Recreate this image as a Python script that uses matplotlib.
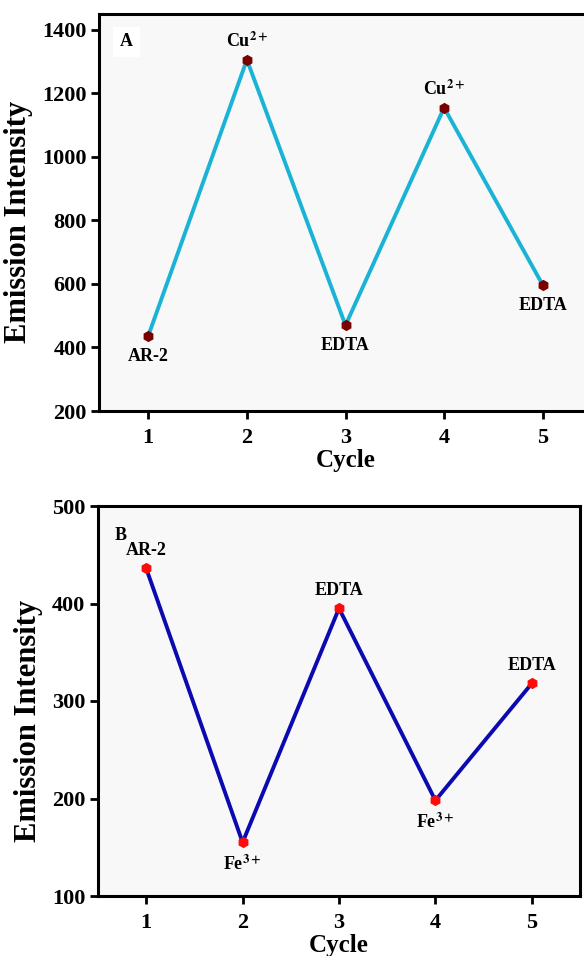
import matplotlib
matplotlib.use("Agg")
import matplotlib.pyplot as plt

plt.rcParams['font.family'] = ['Liberation Serif', 'DejaVu Serif']
plt.rcParams['font.weight'] = 'bold'
plt.rcParams['mathtext.fontset'] = 'stix'

cycles = [1, 2, 3, 4, 5]
intensity_a = [437, 1306, 470, 1155, 597]
labels_a = ['AR-2', r'Cu$^{\mathbf{2+}}$', 'EDTA', r'Cu$^{\mathbf{2+}}$', 'EDTA']
pos_a = ['below', 'above', 'below', 'above', 'below']

intensity_b = [436, 155, 395, 198, 318]
labels_b = ['AR-2', r'Fe$^{\mathbf{3+}}$', 'EDTA', r'Fe$^{\mathbf{3+}}$', 'EDTA']
pos_b = ['above', 'below', 'above', 'below', 'above']

yticks_a = [200, 400, 600, 800, 1000, 1200, 1400]
yticks_b = [100, 200, 300, 400, 500]

W, H = 584, 956
fig = plt.figure(figsize=(W / 100, H / 100), dpi=100)

def box(l, r, t, b):
    return [l / W, 1 - b / H, (r - l) / W, (b - t) / H]

axA = fig.add_axes(box(99, 592, 14, 411))
axB = fig.add_axes(box(98, 580, 506, 896))

def style(ax, yticks, ylim):
    ax.set_facecolor('#f8f8f8')
    ax.set_xlim(0.5, 5.5)
    ax.set_ylim(*ylim)
    ax.set_xticks(cycles)
    ax.set_yticks(yticks)
    for s in ax.spines.values():
        s.set_linewidth(2.2)
    ax.tick_params(direction='out', length=6, width=2, labelsize=16, pad=3)
    ax.tick_params(axis='x', pad=6)
    for lab in ax.get_xticklabels() + ax.get_yticklabels():
        lab.set_fontweight('bold')
    ax.set_xlabel('Cycle', fontsize=18, fontweight='bold', labelpad=1)
    ax.set_ylabel('Emission Intensity', fontsize=22, fontweight='bold')

style(axA, yticks_a, (200, 1450))
style(axB, yticks_b, (100, 500))

axA.plot(cycles, intensity_a, color='#1ab3d6', lw=2.8, zorder=2)
axA.plot(cycles, intensity_a, ls='none', marker='h', ms=7, color='#7a0000', zorder=3)
axB.plot(cycles, intensity_b, color='#0a0ab0', lw=2.8, zorder=2)
axB.plot(cycles, intensity_b, ls='none', marker='h', ms=7, color='#ff0a0a', zorder=3)

def annotate(ax, xs, ys, labels, pos):
    for x, y, lab, p in zip(xs, ys, labels, pos):
        if p == 'above':
            ax.annotate(lab, (x, y), xytext=(0, 9), textcoords='offset pixels',
                        ha='center', va='bottom', fontsize=13, fontweight='bold')
        else:
            ax.annotate(lab, (x, y), xytext=(0, -12), textcoords='offset pixels',
                        ha='center', va='top', fontsize=13, fontweight='bold')

annotate(axA, cycles, intensity_a, labels_a, pos_a)
annotate(axB, cycles, intensity_b, labels_b, pos_b)

axA.text(0.78, 1362, 'A', fontsize=13, fontweight='bold', ha='center', va='center',
         bbox=dict(facecolor='white', edgecolor='none', pad=5))
axB.text(0.74, 470, 'B', fontsize=13, fontweight='bold', ha='center', va='center')

axA.yaxis.set_label_coords(-0.134, 0.476)
axB.yaxis.set_label_coords(-0.114, 0.449)

fig.savefig('out.png', dpi=100)
